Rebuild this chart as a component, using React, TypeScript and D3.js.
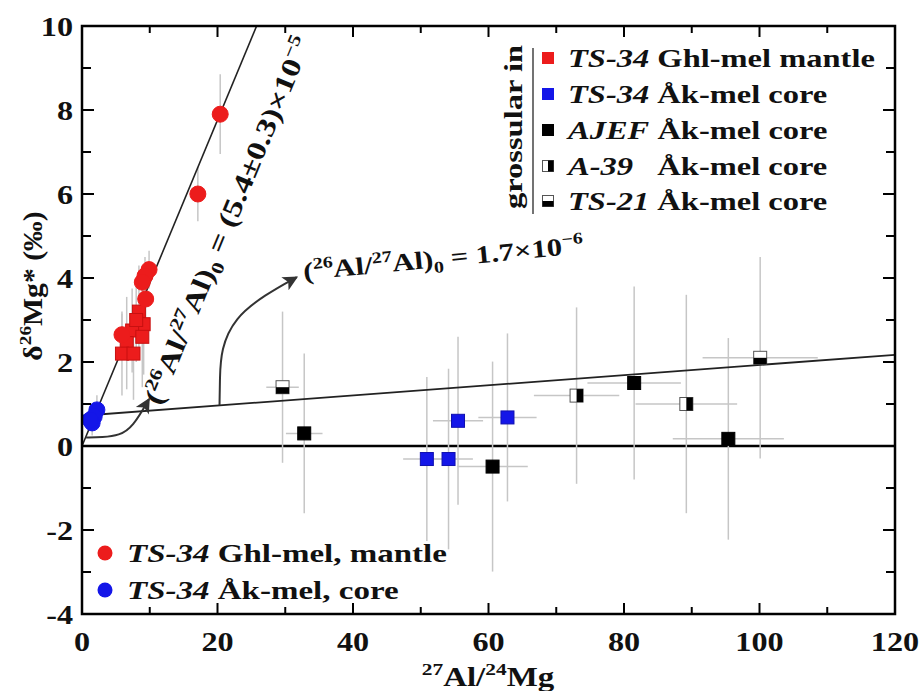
import React, { useEffect, useRef } from "react";
import * as d3 from "d3";

const W = 919;
const H = 691;
const FONT = "'Liberation Serif','Times New Roman',serif";

// [x, y, ex, ey]  -- 27Al/24Mg, d26Mg* (permil), 2 sigma errors
const ghlMelMantle = [
  [20.4, 7.9, 0.4, 0.95],
  [17.1, 6.0, 0.4, 0.65],
  [9.9, 4.2, 0.3, 0.45],
  [9.3, 4.05, 0.3, 0.45],
  [8.9, 3.9, 0.3, 0.4],
  [9.4, 3.5, 0.3, 0.45],
  [5.9, 2.65, 0.3, 0.5],
];
const grosGhlMantle = [
  [8.4, 3.2, 0.3, 1.1],
  [9.1, 2.9, 0.3, 1.2],
  [7.4, 2.75, 0.3, 1.0],
  [6.6, 2.45, 0.3, 1.1],
  [5.9, 2.2, 0.3, 1.0],
  [7.6, 2.2, 0.3, 1.1],
  [8.9, 2.6, 0.3, 1.2],
  [8.0, 3.0, 0.3, 1.0],
];
const akMelCore = [
  [2.2, 0.86, 0.2, 0.35],
  [1.8, 0.7, 0.2, 0.3],
  [1.5, 0.55, 0.2, 0.3],
  [1.2, 0.62, 0.2, 0.25],
];
const grosAkCore = [
  [50.9, -0.31, 3.5, 1.95],
  [54.1, -0.31, 3.6, 2.15],
  [55.5, 0.6, 3.7, 2.0],
  [62.8, 0.68, 4.3, 2.0],
];
const grosAJEF = [
  [32.8, 0.3, 2.7, 1.9],
  [60.6, -0.49, 5.2, 2.5],
  [81.5, 1.5, 6.9, 2.3],
  [95.4, 0.17, 8.2, 2.4],
];
const grosA39 = [
  [73.0, 1.2, 6.3, 2.1],
  [89.2, 1.0, 7.5, 2.6],
];
const grosTS21 = [
  [29.6, 1.4, 2.4, 1.8],
  [100.1, 2.1, 8.5, 2.4],
];

// isochrons: [slope, intercept]
const isoSteep = [0.388, 0.0];
const isoFlat = [0.0121, 0.72];

const xTicks = [0, 20, 40, 60, 80, 100, 120];
const yTicks = [10, 8, 6, 4, 2, 0, -2, -4];

const RED = "#ec1c1c";
const BLUE = "#1416e8";

function label(parent, x, y, parts, opt: any = {}) {
  const fs = opt.fs || 26;
  const g = parent
    .append("g")
    .attr(
      "transform",
      "translate(" + x + "," + y + ") rotate(" + (opt.rotate || 0) + ") scale(" + (opt.sx || 1.15) + ",1)"
    );
  const t = g
    .append("text")
    .attr("font-family", FONT)
    .attr("font-weight", "bold")
    .attr("font-size", fs)
    .attr("fill", opt.fill || "#111")
    .attr("text-anchor", opt.anchor || "start");
  let shift = 0;
  parts.forEach(p => {
    const target = p.sup ? -fs * 0.4 : p.sub ? fs * 0.22 : 0;
    const ts = t.append("tspan").attr("dy", target - shift).text(p.t);
    shift = target;
    if (p.sup || p.sub) ts.attr("font-size", fs * 0.65);
    if (p.it) ts.attr("font-style", "italic");
  });
  return g;
}

export default function App() {
  const ref = useRef(null);

  useEffect(() => {
    const svg = d3.select(ref.current);
    svg.selectAll("*").remove();

    const x = d3.scaleLinear().domain([0, 120]).range([82, 895]);
    const y = d3.scaleLinear().domain([-4, 10]).range([614, 26]);

    svg.append("rect").attr("width", W).attr("height", H).attr("fill", "#fff");

    const defs = svg.append("defs");
    defs
      .append("clipPath")
      .attr("id", "plot")
      .append("rect")
      .attr("x", 82)
      .attr("y", 26)
      .attr("width", 813)
      .attr("height", 588);
    defs
      .append("marker")
      .attr("id", "arr")
      .attr("viewBox", "0 0 10 10")
      .attr("refX", 9)
      .attr("refY", 5)
      .attr("markerUnits", "userSpaceOnUse")
      .attr("markerWidth", 17)
      .attr("markerHeight", 15)
      .attr("orient", "auto")
      .append("path")
      .attr("d", "M0,0 L10,5 L0,10 L2.5,5 z")
      .attr("fill", "#333");

    const plot = svg.append("g").attr("clip-path", "url(#plot)");

    // zero line
    plot
      .append("line")
      .attr("x1", x(0))
      .attr("x2", x(120))
      .attr("y1", y(0))
      .attr("y2", y(0))
      .attr("stroke", "#000")
      .attr("stroke-width", 2.5);

    // error bars
    const allSeries = [ghlMelMantle, grosGhlMantle, akMelCore, grosAkCore, grosAJEF, grosA39, grosTS21];
    const err = plot.append("g").attr("stroke", "#c6c6c6").attr("stroke-width", 1.5);
    allSeries.forEach(s =>
      s.forEach(d => {
        err
          .append("line")
          .attr("x1", x(d[0]))
          .attr("x2", x(d[0]))
          .attr("y1", y(d[1] - d[3]))
          .attr("y2", y(d[1] + d[3]));
        err
          .append("line")
          .attr("x1", x(d[0] - d[2]))
          .attr("x2", x(d[0] + d[2]))
          .attr("y1", y(d[1]))
          .attr("y2", y(d[1]));
      })
    );

    // isochrons
    const iso = d3
      .line()
      .x(d => x(d[0]))
      .y(d => y(d[1]));
    plot
      .append("path")
      .attr("d", iso([[0, isoSteep[1]], [30, isoSteep[1] + 30 * isoSteep[0]]]))
      .attr("stroke", "#222")
      .attr("stroke-width", 1.6)
      .attr("fill", "none");
    plot
      .append("path")
      .attr("d", iso([[0, isoFlat[1]], [120, isoFlat[1] + 120 * isoFlat[0]]]))
      .attr("stroke", "#222")
      .attr("stroke-width", 1.8)
      .attr("fill", "none");

    // arrows
    const curve = d3
      .line()
      .x(d => x(d[0]))
      .y(d => y(d[1]))
      .curve(d3.curveBasis);
    plot
      .append("path")
      .attr("d", curve([[20.3, 0.97], [20.35, 1.6], [20.5, 2.3], [22.5, 3.05], [27, 3.6], [31.7, 4.02]]))
      .attr("stroke", "#333")
      .attr("stroke-width", 2)
      .attr("fill", "none")
      .attr("marker-end", "url(#arr)");
    plot
      .append("path")
      .attr("d", curve([[0.6, 0.2], [3, 0.21], [5.5, 0.25], [7.5, 0.45], [9.9, 1.12]]))
      .attr("stroke", "#333")
      .attr("stroke-width", 2)
      .attr("fill", "none")
      .attr("marker-end", "url(#arr)");

    // markers
    const sq = 13;
    const squares = (data, fill, stroke) =>
      plot
        .append("g")
        .selectAll("rect")
        .data(data)
        .enter()
        .append("rect")
        .attr("x", d => x(d[0]) - sq / 2)
        .attr("y", d => y(d[1]) - sq / 2)
        .attr("width", sq)
        .attr("height", sq)
        .attr("fill", fill)
        .attr("stroke", stroke)
        .attr("stroke-width", 1);
    const circles = (data, fill) =>
      plot
        .append("g")
        .selectAll("circle")
        .data(data)
        .enter()
        .append("circle")
        .attr("cx", d => x(d[0]))
        .attr("cy", d => y(d[1]))
        .attr("r", 8)
        .attr("fill", fill)
        .attr("stroke", fill);

    circles(akMelCore, BLUE);
    squares(grosGhlMantle, RED, "#c81010");
    circles(ghlMelMantle, RED);
    squares(grosAkCore, BLUE, "#1010b0");
    squares(grosAJEF, "#000", "#000");

    const half = (g, cx, cy, s, dir) => {
      g.append("rect")
        .attr("x", cx - s / 2)
        .attr("y", cy - s / 2)
        .attr("width", s)
        .attr("height", s)
        .attr("fill", "#fff")
        .attr("stroke", "#555")
        .attr("stroke-width", 1);
      if (dir === "right")
        g.append("rect").attr("x", cx).attr("y", cy - s / 2).attr("width", s / 2).attr("height", s).attr("fill", "#000");
      else
        g.append("rect").attr("x", cx - s / 2).attr("y", cy).attr("width", s).attr("height", s / 2).attr("fill", "#000");
    };
    const hg = plot.append("g");
    grosA39.forEach(d => half(hg, x(d[0]), y(d[1]), sq, "right"));
    grosTS21.forEach(d => half(hg, x(d[0]), y(d[1]), sq, "bottom"));

    // frame and ticks
    const axes = svg.append("g").attr("stroke", "#000");
    axes
      .append("rect")
      .attr("x", 82)
      .attr("y", 26)
      .attr("width", 813)
      .attr("height", 588)
      .attr("fill", "none")
      .attr("stroke-width", 2.5);
    d3.range(0, 121, 10).forEach(v => {
      const len = v % 20 === 0 ? 11 : 7;
      axes.append("line").attr("x1", x(v)).attr("x2", x(v)).attr("y1", 614).attr("y2", 614 - len).attr("stroke-width", 2);
      axes.append("line").attr("x1", x(v)).attr("x2", x(v)).attr("y1", 26).attr("y2", 26 + len).attr("stroke-width", 2);
    });
    d3.range(-4, 11, 1).forEach(v => {
      const len = v % 2 === 0 ? 12 : 9;
      axes.append("line").attr("x1", 82).attr("x2", 82 + len).attr("y1", y(v)).attr("y2", y(v)).attr("stroke-width", 2);
      axes.append("line").attr("x1", 895).attr("x2", 895 - len).attr("y1", y(v)).attr("y2", y(v)).attr("stroke-width", 2);
    });

    xTicks.forEach(v => label(svg, x(v), 651, [{ t: String(v) }], { fs: 28, anchor: "middle" }));
    yTicks.forEach(v => label(svg, 73, y(v) + 10, [{ t: String(v) }], { fs: 28, anchor: "end" }));

    // axis titles
    label(
      svg,
      488,
      686,
      [{ t: "27", sup: true }, { t: "Al/" }, { t: "24", sup: true }, { t: "Mg" }],
      { fs: 27, anchor: "middle", sx: 1.22 }
    );
    label(
      svg,
      42,
      286,
      [{ t: "δ" }, { t: "26", sup: true }, { t: "Mg* (‰)" }],
      { fs: 27, anchor: "middle", rotate: -90, sx: 1.1 }
    );

    // isochron labels
    label(
      svg,
      236,
      224,
      [
        { t: "(" },
        { t: "26", sup: true },
        { t: "Al/" },
        { t: "27", sup: true },
        { t: "Al)" },
        { t: "0", sub: true },
        { t: " = (5.4±0.3)×10" },
        { t: "−5", sup: true },
      ],
      { fs: 27, anchor: "middle", rotate: -67.5, sx: 1.26 }
    );
    label(
      svg,
      304,
      280,
      [
        { t: "(" },
        { t: "26", sup: true },
        { t: "Al/" },
        { t: "27", sup: true },
        { t: "Al)" },
        { t: "0", sub: true },
        { t: " = 1.7×10" },
        { t: "−6", sup: true },
      ],
      { fs: 25, anchor: "start", rotate: -5.5, sx: 1.23 }
    );

    // top-right legend (grossular)
    const legRows = [
      { fill: RED, kind: "full", it: "TS-34", rest: " Ghl-mel mantle" },
      { fill: BLUE, kind: "full", it: "TS-34", rest: " Åk-mel core" },
      { fill: "#000", kind: "full", it: "AJEF", rest: " Åk-mel core" },
      { fill: "#000", kind: "right", it: "A-39", rest: "\u00a0\u00a0\u00a0Åk-mel core" },
      { fill: "#000", kind: "bottom", it: "TS-21", rest: " Åk-mel core" },
    ];
    const legY = [58, 94, 130, 166, 201];
    const lg = svg.append("g");
    legRows.forEach((r, i) => {
      const cy = legY[i];
      if (r.kind === "full")
        lg.append("rect").attr("x", 542).attr("y", cy - 6).attr("width", 12).attr("height", 12).attr("fill", r.fill);
      else half(lg, 548, cy, 11, r.kind);
      label(lg, 568, cy + 9, [{ t: r.it, it: true }, { t: r.rest }], { fs: 26, sx: 1.25 });
    });
    lg.append("line").attr("x1", 533).attr("x2", 533).attr("y1", 48).attr("y2", 214).attr("stroke", "#444").attr("stroke-width", 1.5);
    label(lg, 522, 127, [{ t: "grossular in" }], { fs: 26, anchor: "middle", rotate: -90, sx: 1.25 });

    // bottom-left legend (melilite)
    const bl = svg.append("g");
    [
      { fill: RED, it: "TS-34", rest: " Ghl-mel, mantle", cy: 553 },
      { fill: BLUE, it: "TS-34", rest: " Åk-mel, core", cy: 590 },
    ].forEach(r => {
      bl.append("circle").attr("cx", 105).attr("cy", r.cy).attr("r", 7.5).attr("fill", r.fill);
      label(bl, 127, r.cy + 9, [{ t: r.it, it: true }, { t: r.rest }], { fs: 26, sx: 1.27 });
    });
  }, []);

  return (
    <svg
      ref={ref}
      width={W}
      height={H}
      style={{ position: "absolute", left: 0, top: 0, display: "block" }}
    />
  );
}
